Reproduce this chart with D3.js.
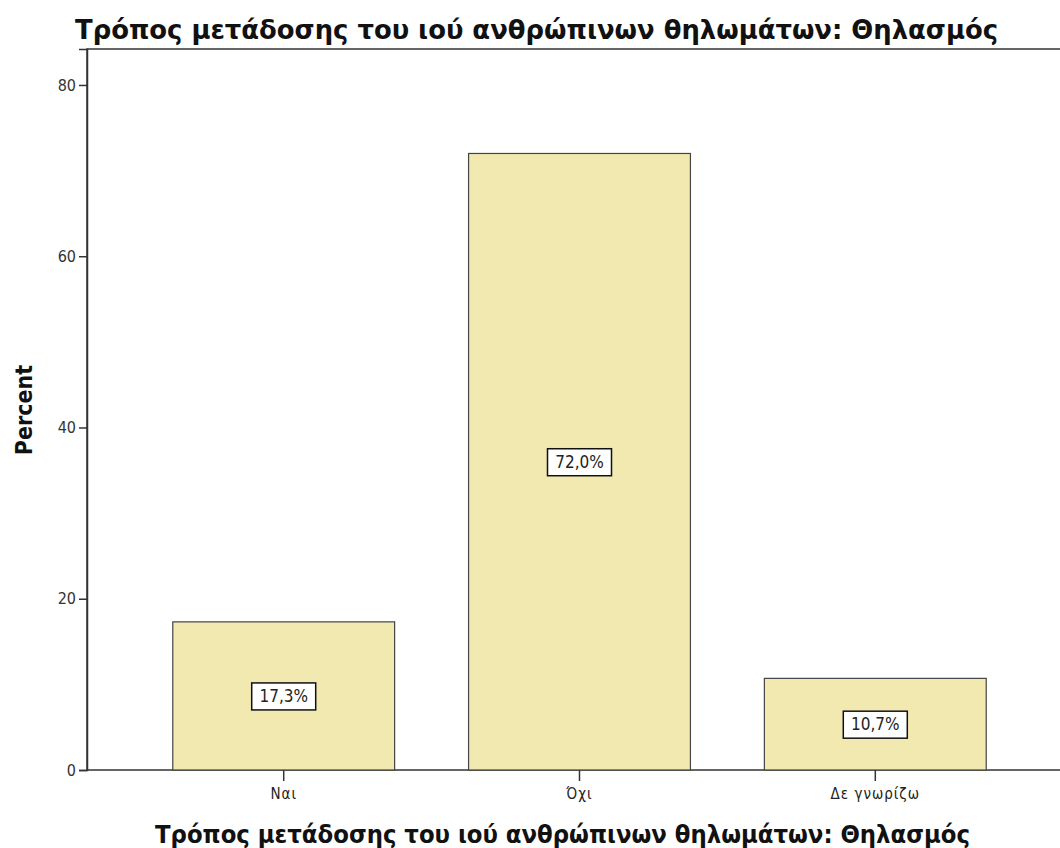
<!DOCTYPE html>
<html>
<head>
<meta charset="utf-8">
<script src="https://cdn.jsdelivr.net/npm/d3@7"></script>
<style>
  body { margin: 0; background: #fff; }
  text { font-family: "DejaVu Sans Condensed", "DejaVu Sans", sans-serif; }
</style>
</head>
<body>
<div id="chart"></div>
<script>
// Data
var categories = ["Ναι", "Όχι", "Δε γνωρίζω"];
var percents = [17.3, 72.0, 10.7];
var yTicks = [0, 20, 40, 60, 80];
var titleText = "Τρόπος μετάδοσης του ιού ανθρώπινων θηλωμάτων: Θηλασμός";

var width = 1060, height = 848;
var plot = {left: 87, top: 49, right: 1072, bottom: 770};

var svg = d3.select("#chart").append("svg")
    .attr("width", width)
    .attr("height", height);

var x = d3.scaleBand()
    .domain(categories)
    .range([plot.left, plot.right])
    .paddingInner(0.25)
    .paddingOuter(0.29);

var y = d3.scaleLinear()
    .domain([0, 84.2])
    .range([plot.bottom, plot.top]);

// Frame
svg.append("rect")
    .attr("x", plot.left)
    .attr("y", plot.top)
    .attr("width", plot.right - plot.left)
    .attr("height", plot.bottom - plot.top)
    .attr("fill", "none")
    .attr("stroke", "#333")
    .attr("stroke-width", 1.5);

// Bars
svg.append("g").selectAll("rect")
    .data(percents)
    .enter().append("rect")
    .attr("x", function(d, i) { return x(categories[i]); })
    .attr("y", function(d) { return y(d); })
    .attr("width", x.bandwidth())
    .attr("height", function(d) { return y(0) - y(d); })
    .attr("fill", "#f2e9b0")
    .attr("stroke", "#444")
    .attr("stroke-width", 1.2);

// Y axis
var yAxis = d3.axisLeft(y).tickValues(yTicks).tickSize(8).tickPadding(3);
var gy = svg.append("g")
    .attr("transform", "translate(" + plot.left + ",0)")
    .call(yAxis);
gy.select(".domain").attr("stroke", "#333").attr("stroke-width", 1.5);
gy.selectAll(".tick line").attr("stroke", "#333").attr("stroke-width", 1.5);
gy.selectAll(".tick text")
    .style("font-size", "16px")
    .style("font-family", "'DejaVu Sans Condensed', sans-serif")
    .attr("fill", "#333");

// X axis
var xAxis = d3.axisBottom(x).tickSize(11).tickPadding(7).tickSizeOuter(0);
var gx = svg.append("g")
    .attr("transform", "translate(0," + plot.bottom + ")")
    .call(xAxis);
gx.select(".domain").remove();
gx.selectAll(".tick line").attr("stroke", "#333").attr("stroke-width", 1.5);
gx.selectAll(".tick text")
    .style("font-size", "15px")
    .style("font-family", "'DejaVu Sans Condensed', sans-serif")
    .style("letter-spacing", "1px")
    .attr("fill", "#222");

// Value labels
var lab = svg.append("g").selectAll("g")
    .data(percents)
    .enter().append("g")
    .attr("transform", function(d, i) {
        return "translate(" + (x(categories[i]) + x.bandwidth() / 2) + "," + y(d / 2) + ")";
    });
lab.append("rect")
    .attr("x", -32).attr("y", -13)
    .attr("width", 64).attr("height", 27)
    .attr("fill", "#fff")
    .attr("stroke", "#111")
    .attr("stroke-width", 1.5);
lab.append("text")
    .attr("text-anchor", "middle")
    .attr("dy", "0.36em")
    .style("font-size", "17px")
    .attr("fill", "#222")
    .text(function(d) { return d.toFixed(1).replace(".", ",") + "%"; });

// Title
svg.append("text")
    .attr("x", 75)
    .attr("y", 39)
    .attr("textLength", 923)
    .attr("lengthAdjust", "spacingAndGlyphs")
    .style("font-size", "27px")
    .style("font-weight", "bold")
    .attr("fill", "#111")
    .text(titleText);

// X label
svg.append("text")
    .attr("x", 155)
    .attr("y", 843)
    .attr("textLength", 815)
    .attr("lengthAdjust", "spacingAndGlyphs")
    .style("font-size", "24px")
    .style("font-weight", "bold")
    .attr("fill", "#111")
    .text(titleText);

// Y label
svg.append("text")
    .attr("transform", "translate(32,410) rotate(-90)")
    .attr("text-anchor", "middle")
    .style("font-size", "23px")
    .style("font-weight", "bold")
    .attr("fill", "#111")
    .text("Percent");
</script>
</body>
</html>
